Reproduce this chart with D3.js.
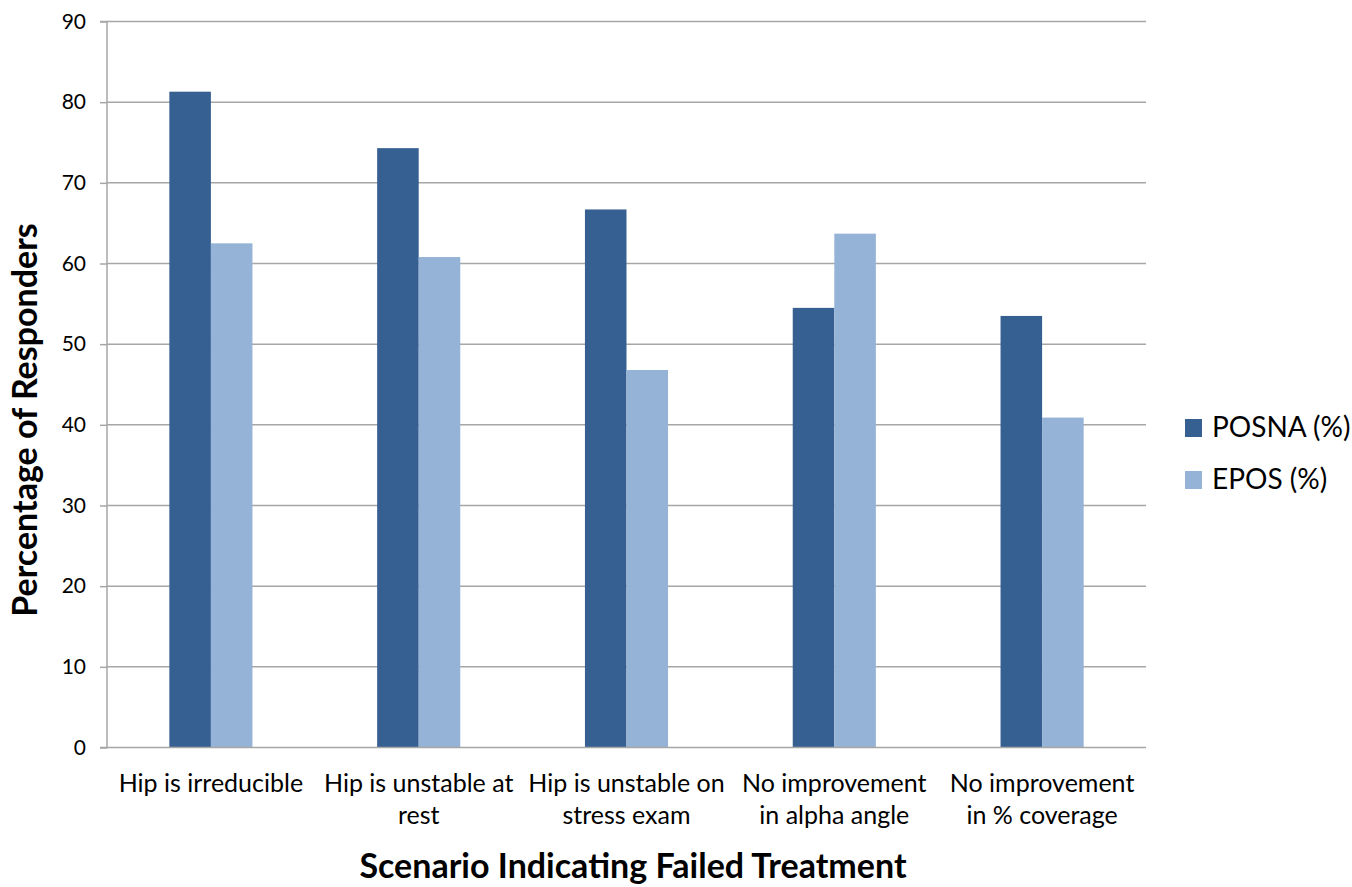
<!DOCTYPE html>
<html>
<head>
<meta charset="utf-8">
<script src="https://cdn.jsdelivr.net/npm/d3@7"></script>
<style>
  html, body { margin: 0; padding: 0; background: #fff; }
  svg { display: block; font-family: Lato, "Open Sans", sans-serif; }
</style>
</head>
<body>
<svg id="chart" width="1352" height="887"></svg>
<script>
const categories = [
  ["Hip is irreducible"],
  ["Hip is unstable at", "rest"],
  ["Hip is unstable on", "stress exam"],
  ["No improvement", "in alpha angle"],
  ["No improvement", "in % coverage"]
];
const seriesNames = ["POSNA (%)", "EPOS (%)"];
const posna = [81.3, 74.3, 66.7, 54.5, 53.5];
const epos = [62.5, 60.8, 46.8, 63.7, 40.9];
const yTicks = [0, 10, 20, 30, 40, 50, 60, 70, 80, 90];
const colors = ["#376092", "#95B3D7"];

(function () {
const svg = d3.select("#chart");
const pL = 107, pR = 1146, pT = 21.5, pB = 747.5;

const x0 = d3.scaleBand().domain(d3.range(categories.length)).range([pL, pR]).paddingInner(0).paddingOuter(0);
const x1 = d3.scaleBand().domain([0, 1]).range([0, x0.bandwidth()]).paddingInner(0).paddingOuter(1.5);
const y = d3.scaleLinear().domain([0, 90]).range([pB, pT]);

// gridlines
svg.append("g").selectAll("line").data(yTicks.filter(d => d > 0)).join("line")
  .attr("x1", pL).attr("x2", pR)
  .attr("y1", d => y(d)).attr("y2", d => y(d))
  .attr("stroke", "#a6a6a6").attr("stroke-width", 1.5);

// bars
const data = categories.map((c, i) => [posna[i], epos[i]]);
const groups = svg.append("g").selectAll("g").data(data).join("g")
  .attr("transform", (d, i) => `translate(${x0(i)},0)`);
groups.selectAll("rect").data(d => d.map((v, s) => ({v, s}))).join("rect")
  .attr("x", d => x1(d.s)).attr("width", x1.bandwidth())
  .attr("y", d => y(d.v)).attr("height", d => y(0) - y(d.v))
  .attr("fill", d => colors[d.s]);

// y axis
const yAxis = d3.axisLeft(y).tickValues(yTicks).tickSize(7).tickPadding(14);
const ya = svg.append("g").attr("transform", `translate(${pL},0)`).call(yAxis);
ya.select(".domain").attr("stroke", "#a6a6a6").attr("stroke-width", 1.5).attr("d", `M-7,${pT}H0V${pB}H-7`);
ya.selectAll(".tick line").attr("stroke", "#a6a6a6").attr("stroke-width", 1.5);
ya.selectAll(".tick text").attr("font-size", 21).attr("fill", "#000").attr("font-family", "Lato, sans-serif");

// x axis baseline
svg.append("line").attr("x1", pL).attr("x2", pR).attr("y1", pB).attr("y2", pB)
  .attr("stroke", "#a6a6a6").attr("stroke-width", 1.5);

// category labels
const cl = svg.append("g").selectAll("text").data(categories).join("text")
  .attr("text-anchor", "middle").attr("font-size", 25).attr("fill", "#000")
  .attr("x", (d, i) => x0(i) + x0.bandwidth() / 2).attr("y", 792);
cl.selectAll("tspan").data(d => d).join("tspan")
  .attr("x", function() { return d3.select(this.parentNode).attr("x"); })
  .attr("dy", (d, j) => j === 0 ? 0 : 32)
  .text(d => d);

// axis titles
svg.append("text").attr("transform", `translate(37,420) rotate(-90)`)
  .attr("text-anchor", "middle").attr("font-size", 34).attr("font-weight", "bold").attr("fill", "#000")
  .text("Percentage of Responders");
svg.append("text").attr("x", 633).attr("y", 878)
  .attr("text-anchor", "middle").attr("font-size", 34).attr("font-weight", "bold").attr("fill", "#000")
  .text("Scenario Indicating Failed Treatment");

// legend
const lg = svg.append("g").selectAll("g").data(seriesNames).join("g")
  .attr("transform", (d, i) => `translate(1185,${419 + i * 52})`);
lg.append("rect").attr("width", 17).attr("height", 18).attr("fill", (d, i) => colors[i]);
lg.append("text").attr("x", 27).attr("y", 18).attr("font-size", 28).attr("fill", "#000").text(d => d);
})();
</script>
</body>
</html>
